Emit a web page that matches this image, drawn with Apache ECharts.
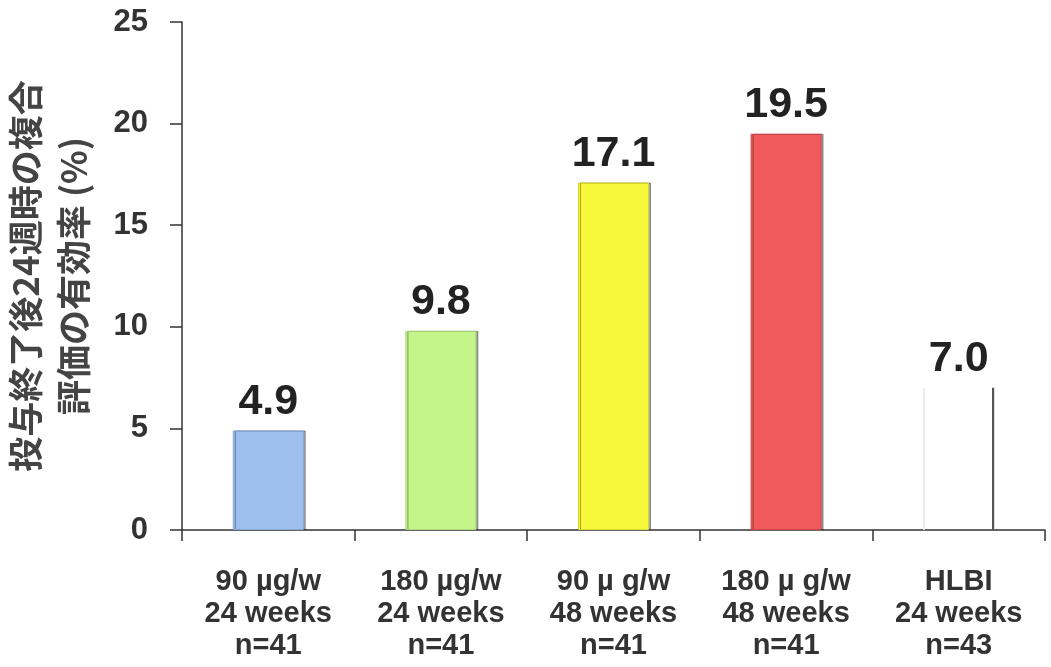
<!DOCTYPE html>
<html>
<head>
<meta charset="utf-8">
<script src="https://cdn.jsdelivr.net/npm/echarts@6/dist/echarts.min.js"></script>
<style>
  html, body { margin: 0; padding: 0; background: #fff; }
  #chart { width: 1051px; height: 667px; }
</style>
</head>
<body>
<div id="chart"></div>
<script>
// Treatment groups (three label lines each)
const doses = ['90 µg/w', '180 µg/w', '90 µ g/w', '180 µ g/w', 'HLBI'];
const durations = ['24 weeks', '24 weeks', '48 weeks', '48 weeks', '24 weeks'];
const sampleSizes = ['n=41', 'n=41', 'n=41', 'n=41', 'n=43'];
// Response rate (%) per group
const rates = [4.9, 9.8, 17.1, 19.5, 7.0];
// Bar fill colours
const barColors = ['#9dbff0', '#c4f58a', '#f8f83a', '#f05a5c', '#ffffff'];
const barEdges = ['#86a6d4', '#a9d874', '#d8d82a', '#d04648', '#f4f4f4'];
// Y axis
const yMin = 0, yMax = 25, yStep = 5;
const yTitle = '投与終了後24週時の複合\n評価の有効率 (%)';

const categories = doses.map((d, i) => d + '\n' + durations[i] + '\n' + sampleSizes[i]);

// The white bar: see-through body, faint left edge, dark right edge
const whiteBarFill = new echarts.graphic.LinearGradient(0, 0, 1, 0, [
  { offset: 0, color: '#ececec' },
  { offset: 0.02, color: '#ececec' },
  { offset: 0.02, color: 'rgba(255,255,255,0)' },
  { offset: 0.97, color: 'rgba(255,255,255,0)' },
  { offset: 0.97, color: '#555555' },
  { offset: 1, color: '#555555' }
]);

const chart = echarts.init(document.getElementById('chart'), null, { renderer: 'canvas' });

chart.setOption({
  backgroundColor: '#ffffff',
  animation: false,
  grid: { left: 182, right: 6, top: 22, bottom: 137, containLabel: false, outerBoundsMode: 'none' },
  xAxis: {
    type: 'category',
    data: categories,
    boundaryGap: true,
    axisLine: { lineStyle: { color: '#333', width: 1.5 } },
    axisTick: { show: true, alignWithLabel: false, length: 11, inside: false, lineStyle: { color: '#333', width: 1.5 } },
    axisLabel: {
      color: '#333',
      fontFamily: 'Liberation Sans, Arial, sans-serif',
      fontSize: 29,
      fontWeight: 'bold',
      lineHeight: 32,
      margin: 36,
      interval: 0
    }
  },
  yAxis: {
    type: 'value',
    min: yMin,
    max: yMax,
    interval: yStep,
    splitLine: { show: false },
    axisLine: { show: true, lineStyle: { color: '#333', width: 1.5 } },
    axisTick: { show: true, length: 12, lineStyle: { color: '#333', width: 1.5 } },
    axisLabel: {
      color: '#333',
      fontFamily: 'Liberation Sans, Arial, sans-serif',
      fontSize: 31,
      fontWeight: 'bold',
      margin: 34
    },
    name: yTitle,
    nameLocation: 'middle',
    nameRotate: 90,
    nameGap: 84,
    nameTextStyle: {
      color: '#444',
      fontFamily: 'Noto Sans CJK JP, sans-serif',
      fontSize: 35,
      fontWeight: 'bold',
      lineHeight: 48,
      align: 'center'
    }
  },
  series: [{
    type: 'bar',
    barWidth: 71,
    data: rates.map((v, i) => ({
      value: v,
      itemStyle: i === 4 ? {
        color: whiteBarFill,
        borderWidth: 0
      } : {
        color: barColors[i],
        borderColor: barEdges[i],
        borderWidth: 1,
        shadowColor: 'rgba(0,0,0,0.35)',
        shadowOffsetX: 2,
        shadowOffsetY: 0,
        shadowBlur: 0
      }
    })),
    label: {
      show: true,
      position: 'top',
      distance: 7,
      color: '#222',
      fontFamily: 'Liberation Sans, Arial, sans-serif',
      fontSize: 43,
      fontWeight: 'bold',
      formatter: p => p.value.toFixed(1)
    }
  }]
});
</script>
</body>
</html>
